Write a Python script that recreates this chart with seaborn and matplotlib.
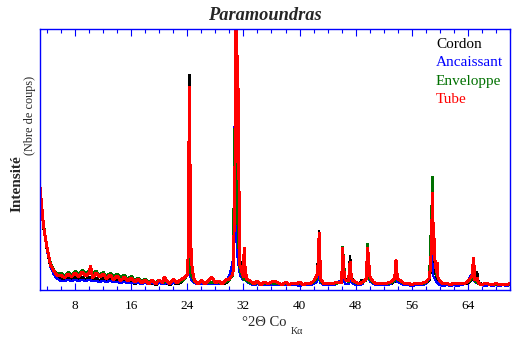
import numpy as np
import pandas as pd
import matplotlib
matplotlib.use("Agg")
import matplotlib.pyplot as plt
from matplotlib.ticker import MultipleLocator, FixedLocator
import seaborn as sns

# Scan range (°2θ, Co Kα) and step of the background readings
scan_start, scan_end, scan_step = 3.0, 70.0, 0.5

# Background counts every 0.5° from 3° to 70°
cordon_bg = [1000, 620, 400, 230, 160, 120, 120, 90, 120, 100,
             130, 100, 130, 100, 130, 100, 120, 90, 120, 90,
             110, 80, 100, 70, 90, 70, 80, 60, 80, 60,
             80, 60, 70, 50, 70, 60, 70, 50, 70, 60,
             70, 100, 150, 150, 70, 60, 70, 60, 60, 70,
             60, 60, 60, 70, 100, 200, 2000, 300, 120, 90,
             70, 60, 60, 60, 60, 60, 60, 60, 60, 60,
             60, 60, 60, 60, 60, 60, 60, 60, 80, 130,
             90, 60, 60, 60, 60, 70, 70, 110, 90, 110,
             70, 70, 70, 100, 110, 70, 60, 60, 60, 60,
             60, 80, 100, 70, 60, 60, 60, 60, 60, 60,
             60, 100, 250, 120, 70, 60, 60, 60, 60, 60,
             60, 60, 70, 100, 90, 80, 60, 60, 60, 50,
             50, 50, 50, 50, 50]
ancaissant_bg = [1000, 620, 400, 230, 150, 110, 90, 90, 100, 90,
                 100, 90, 100, 90, 100, 90, 90, 80, 90, 80,
                 90, 80, 80, 70, 80, 70, 70, 70, 70, 60,
                 70, 60, 70, 60, 70, 60, 70, 60, 70, 70,
                 80, 120, 140, 100, 70, 60, 60, 60, 60, 60,
                 60, 60, 60, 80, 150, 300, 500, 150, 100, 80,
                 60, 50, 60, 50, 50, 50, 50, 50, 50, 50,
                 50, 50, 50, 50, 40, 50, 50, 50, 60, 80,
                 70, 50, 50, 50, 50, 80, 100, 60, 60, 70,
                 50, 50, 60, 120, 90, 60, 50, 50, 50, 50,
                 60, 80, 80, 60, 50, 50, 40, 50, 50, 50,
                 60, 110, 150, 80, 50, 40, 50, 40, 50, 40,
                 50, 60, 80, 120, 80, 60, 50, 40, 50, 40,
                 50, 40, 50, 40, 50]
enveloppe_bg = [1000, 660, 430, 270, 200, 160, 170, 140, 180, 150,
                190, 160, 200, 170, 190, 160, 190, 150, 180, 140,
                170, 140, 160, 130, 150, 110, 140, 100, 120, 90,
                110, 80, 100, 70, 100, 70, 90, 70, 100, 70,
                80, 100, 150, 150, 80, 70, 80, 70, 70, 80,
                70, 70, 70, 80, 100, 150, 2000, 200, 110, 90,
                70, 60, 70, 60, 60, 60, 70, 60, 60, 60,
                60, 60, 60, 60, 60, 60, 60, 60, 80, 120,
                90, 60, 60, 60, 60, 70, 80, 100, 80, 90,
                70, 60, 70, 100, 110, 70, 60, 60, 60, 60,
                70, 90, 110, 80, 60, 60, 60, 60, 60, 60,
                70, 120, 500, 160, 80, 60, 60, 60, 60, 60,
                60, 60, 80, 110, 90, 60, 60, 60, 60, 50,
                60, 50, 50, 50, 60]
tube_bg = [1030, 640, 420, 250, 190, 140, 150, 120, 160, 130,
           170, 130, 180, 140, 170, 120, 170, 130, 160, 110,
           150, 100, 140, 90, 130, 90, 120, 80, 110, 70,
           100, 60, 100, 60, 100, 70, 100, 60, 110, 70,
           100, 120, 150, 450, 100, 60, 100, 60, 90, 130,
           70, 90, 60, 100, 110, 160, 3100, 250, 130, 110,
           90, 60, 90, 50, 80, 60, 80, 90, 70, 50,
           80, 50, 70, 60, 80, 50, 70, 60, 90, 150,
           110, 60, 70, 60, 70, 80, 70, 100, 90, 100,
           80, 60, 80, 110, 140, 80, 60, 70, 60, 70,
           80, 110, 110, 90, 60, 70, 50, 70, 60, 70,
           80, 120, 700, 180, 90, 60, 70, 50, 70, 60,
           70, 60, 90, 130, 100, 70, 50, 70, 60, 50,
           70, 50, 60, 50, 70]

# Reflections (°2θ, counts)
cordon_peak_x = [24.1, 24.28, 24.45, 24.7, 30.6, 30.8, 30.95, 31.1, 31.4, 32.1,
                 42.8, 42.95, 46.15, 47.2, 47.35, 48.9, 49.7, 53.75, 58.98, 59.15,
                 64.8, 65.3]
cordon_peak_y = [300, 2150, 350, 150, 400, 590, 2900, 1200, 400, 250,
                 590, 200, 380, 340, 150, 100, 200, 130, 350, 250,
                 150, 180]
ancaissant_peak_x = [23.9, 24.15, 24.3, 30.4, 30.7, 30.85, 31.2, 32.1,
                     42.55, 42.7, 42.85, 46.05, 46.2, 47.2, 49.55, 49.65, 49.8,
                     53.45, 53.6, 53.8, 58.6, 58.85, 58.95, 59.2, 64.4, 64.6, 64.75]
ancaissant_peak_y = [150, 690, 300, 250, 1150, 2800, 300, 150,
                     100, 190, 120, 260, 120, 100, 180, 220, 150,
                     120, 140, 100, 200, 380, 250, 120, 150, 180, 120]
enveloppe_peak_x = [24.28, 24.4, 30.95, 31.1, 31.4, 42.8, 46.15, 47.2,
                    49.7, 53.75, 58.98, 59.15, 64.8]
enveloppe_peak_y = [430, 250, 2700, 800, 300, 410, 430, 200,
                    460, 150, 1130, 400, 150]
tube_peak_x = [10.2, 20.7, 24.15, 24.28, 24.4, 24.7, 30.6, 30.85, 30.98, 31.15,
               31.3, 31.4, 32.1, 32.25, 42.6, 42.8, 42.95, 46.05, 46.15, 46.3,
               47.05, 47.2, 47.35, 49.55, 49.7, 49.85, 53.6, 53.75, 53.9, 58.7,
               58.98, 59.15, 59.3, 59.6, 59.75, 64.6, 64.8, 64.95, 65.3]
tube_peak_y = [240, 130, 400, 2030, 1180, 200, 300, 1500, 3200, 1800,
               2010, 600, 420, 200, 200, 570, 250, 200, 420, 200,
               150, 280, 150, 200, 420, 300, 150, 300, 160, 250,
               970, 550, 300, 270, 120, 150, 320, 150, 120]

samples = ["Cordon", "Ancaissant", "Enveloppe", "Tube"]
colors = ["#000000", "#0000FF", "#007000", "#FF0000"]
widths = [1.05, 0.9, 1.05, 1.4]

scan = np.round(np.arange(scan_start, scan_end + scan_step / 2, scan_step), 2)


def pattern(name, bg, px, py):
    return pd.DataFrame({
        "angle": np.concatenate([scan, np.asarray(px, float)]),
        "counts": np.concatenate([np.asarray(bg, float), np.asarray(py, float)]),
        "sample": name,
    })


frames = [
    pattern("Cordon", cordon_bg, cordon_peak_x, cordon_peak_y),
    pattern("Ancaissant", ancaissant_bg, ancaissant_peak_x, ancaissant_peak_y),
    pattern("Enveloppe", enveloppe_bg, enveloppe_peak_x, enveloppe_peak_y),
    pattern("Tube", tube_bg, tube_peak_x, tube_peak_y),
]

sns.set_style("white")
plt.rcParams["font.family"] = ["Liberation Serif", "DejaVu Serif"]

fig = plt.figure(figsize=(5.21, 3.42), dpi=100)
ax = fig.add_axes([40 / 521, 52 / 342, 470 / 521, 261 / 342])

for df, col, lw in zip(frames, colors, widths):
    sns.lineplot(data=df, x="angle", y="counts", color=col, linewidth=lw,
                 estimator=None, sort=True, ax=ax, antialiased=False,
                 solid_joinstyle="round")

ax.set_xlim(3, 70)
ax.set_ylim(0, 2610)
ax.set_xlabel("")
ax.set_ylabel("")
ax.set_yticks([])

ax.xaxis.set_major_locator(FixedLocator([8, 16, 24, 32, 40, 48, 56, 64]))
ax.xaxis.set_minor_locator(MultipleLocator(2))
ax.tick_params(axis="x", which="both", direction="in", top=True, bottom=True,
               colors="#0000FF", labelcolor="black", width=0.8)
ax.tick_params(axis="x", which="major", length=4.8, pad=7.5, labelsize=9.5)
ax.tick_params(axis="x", which="minor", length=2.6)
for side in ["left", "right", "top", "bottom"]:
    ax.spines[side].set_visible(True)
    ax.spines[side].set_color("#0000FF")
    ax.spines[side].set_linewidth(1.0)

# Title
fig.text(265 / 521, 1 - 19.5 / 342, "Paramoundras", ha="center", va="baseline",
         fontsize=13.2, fontweight="bold", fontstyle="italic")

# Sample names
baselines = [48.3, 66.5, 84.6, 102.7]
for name, col, yb in zip(samples, colors, baselines):
    fig.text(436 / 521, 1 - yb / 342, name, color=col, ha="left", va="baseline",
             fontsize=11)

# Axis titles
fig.text(242 / 521, 1 - 325.7 / 342, "°2Θ Co", ha="left", va="baseline", fontsize=10.5)
fig.text(291 / 521, 1 - 334 / 342, "Kα", ha="left", va="baseline", fontsize=7.2)
fig.text(17.5 / 521, 1 - 183.5 / 342, "Intensité", rotation=90, ha="center",
         va="center", fontsize=11, fontweight="bold")
fig.text(30 / 521, 1 - 115 / 342, "(Nbre de coups)", rotation=90, ha="center",
         va="center", fontsize=8.8)

fig.savefig("out.png", dpi=100)
